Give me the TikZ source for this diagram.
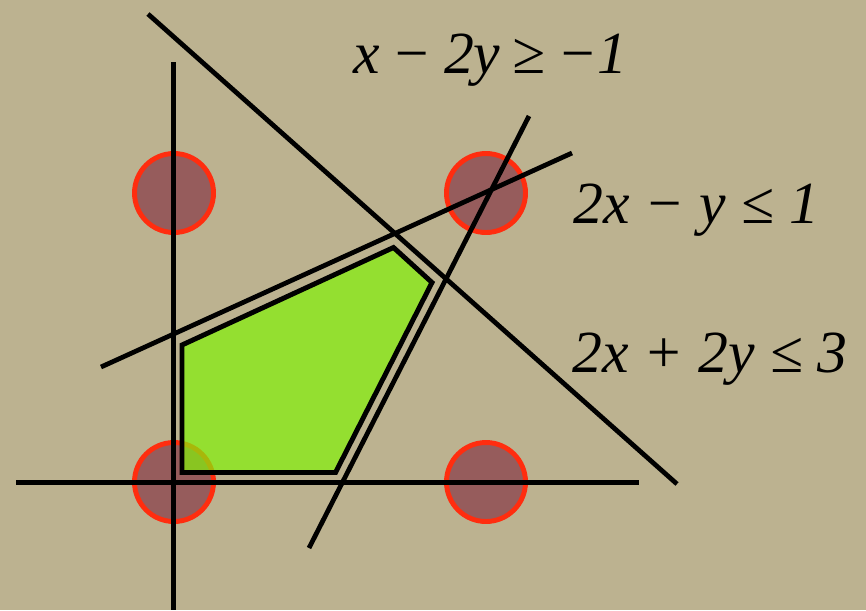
\documentclass[tikz,border=0pt]{standalone}
\usepackage{fontspec}
\setmainfont{Liberation Serif}
\usepackage{tikz}
\usepackage{xcolor}

\definecolor{paper}{RGB}{188,178,144}
\definecolor{feasgreen}{RGB}{132,243,8}
\definecolor{dotfill}{RGB}{150,92,92}
\definecolor{dotring}{RGB}{255,45,15}
\tikzset{
  constraint/.style={line width=2.7pt, black},
  axisline/.style={line width=2.4pt, black},
  intpoint/.style={fill=dotfill, draw=dotring, line width=2.8pt},
  ineq/.style={anchor=base west, inner sep=0pt, font=\fontsize{34}{40}\selectfont\itshape},
}

\begin{document}
\begin{tikzpicture}[x=0.02cm, y=-0.02cm]
% Canvas (pixel units, y downwards)
\fill[paper] (0,0) rectangle (866,610);
\useasboundingbox (0,0) rectangle (866,610);
% Integer points
\foreach \px/\py in {174/193, 486/193, 174/482, 486/482}
  \draw[intpoint] (\px,\py) circle (39.5);
% Feasible region, drawn just inside the constraints
\fill[feasgreen, fill opacity=0.7] (182,472.5) -- (182,345) -- (393.5,247.5) -- (432,282.5) -- (335.5,472.5) -- cycle;
\draw[line width=2.8pt, line join=miter] (182,472.5) -- (182,345) -- (393.5,247.5) -- (432,282.5) -- (335.5,472.5) -- cycle;
% Axes
\coordinate (xl) at (16,482.5);
\coordinate (xr) at (639,482.5);
\coordinate (yt) at (173.5,62);
\coordinate (yb) at (173.5,610);
\draw[axisline] (xl) -- (xr);
\draw[axisline] (yt) -- (yb);
% Constraint lines
\coordinate (c1a) at (148,14);   % 2x + 2y <= 3
\coordinate (c1b) at (677,484);
\coordinate (c2a) at (101,367);  % x - 2y >= -1
\coordinate (c2b) at (572,153);
\coordinate (c3a) at (309,548);  % 2x - y <= 1
\coordinate (c3b) at (529,116);
\draw[constraint] (c1a) -- (c1b);
\draw[constraint] (c2a) -- (c2b);
\draw[constraint] (c3a) -- (c3b);
% Inequalities
\node[ineq] (lab2) at (353,73) {x\hspace{0.2em}−\hspace{0.2em}2y\hspace{0.2em}≥\hspace{0.2em}−1};
\node[ineq] (lab3) at (573,223) {2x − y ≤ 1};
\node[ineq] (lab1) at (572,372) {2x + 2y ≤ 3};
\end{tikzpicture}
\end{document}
